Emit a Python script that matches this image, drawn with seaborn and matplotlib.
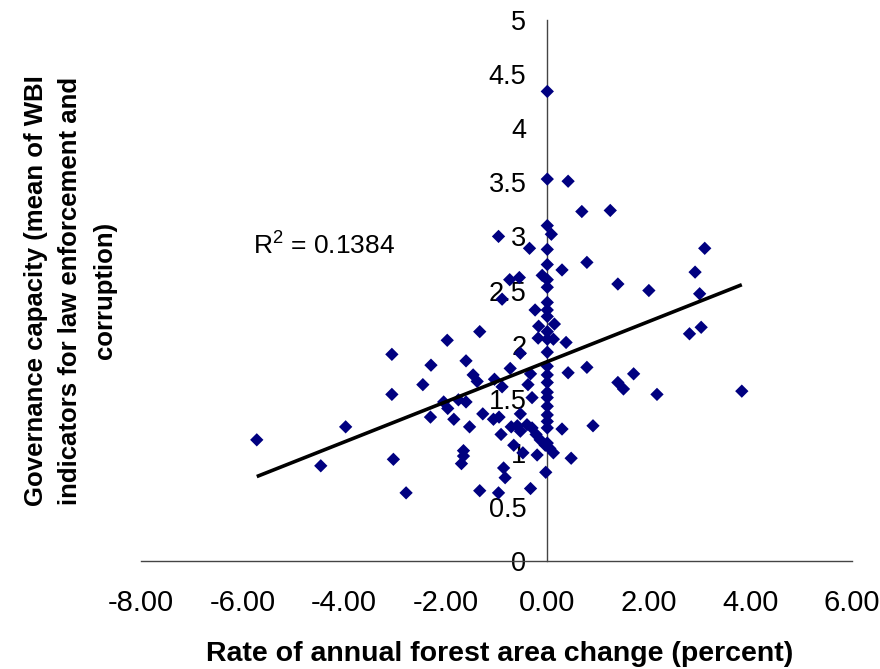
import numpy as np
import pandas as pd
import matplotlib
matplotlib.use("Agg")
import matplotlib.pyplot as plt
import seaborn as sns
from matplotlib.ticker import FuncFormatter

# Rate of annual forest area change (percent) per country
forest_change = [
    -5.72, -4.46, -3.97, -3.06, -3.06, -3.03, -2.78, -2.45, -2.29, -2.30,
    -2.04, -1.96, -1.97,
    -1.84, -1.75, -1.65, -1.65, -1.69, -1.60, -1.60, -1.53, -1.46, -1.38,
    -1.33, -1.33, -1.27, -1.06, -1.04, -0.96, -0.96, -0.95, -0.91, -0.89,
    -0.89, -0.86, -0.83, -0.74, -0.73, -0.71, -0.66, -0.59, -0.55, -0.53,
    -0.53, -0.53, -0.48, -0.40, -0.38, -0.35, -0.33, -0.33, -0.30, -0.30,
    -0.24, -0.22, -0.20, -0.18, -0.17, -0.14, -0.10, -0.04, -0.03,
    0.0, 0.0, 0.0, 0.0, 0.0, 0.0, 0.0, 0.0, 0.0, 0.0, 0.0, 0.0,
    0.0, 0.0, 0.0, 0.0, 0.0, 0.0, 0.0, 0.0, 0.0, 0.0, 0.0,
    0.05, 0.08, 0.12, 0.14, 0.12, 0.29, 0.29, 0.37, 0.41, 0.41, 0.47,
    0.68, 0.78, 0.78, 0.90, 1.24, 1.39, 1.39, 1.50, 1.70, 2.00, 2.16,
    2.80, 2.91, 3.00, 3.03, 3.10, 3.83,
]

# Governance capacity (mean of WBI indicators) for the same countries
governance = [
    1.12, 0.88, 1.24, 1.91, 1.54, 0.94, 0.63, 1.63, 1.81, 1.33,
    1.47, 1.41, 2.04,
    1.31, 1.49, 1.02, 0.97, 0.90, 1.85, 1.47, 1.24, 1.72, 1.66,
    2.12, 0.65, 1.36, 1.31, 1.68, 3.00, 0.63, 1.33, 1.17, 2.42,
    1.61, 0.86, 0.77, 2.60, 1.78, 1.24, 1.07, 1.25, 2.62, 1.92,
    1.36, 1.20, 1.00, 1.26, 1.63, 2.89, 1.73, 0.67, 1.51, 1.23,
    2.32, 1.17, 0.98, 2.06, 2.17, 1.12, 2.64, 1.07, 0.82,
    4.34, 3.53, 3.10, 2.88, 2.74, 2.60, 2.53, 2.39, 2.32, 2.26, 2.12, 2.05,
    1.93, 1.80, 1.72, 1.65, 1.56, 1.51, 1.43, 1.35, 1.29, 1.23, 1.09,
    1.04, 3.02, 1.00, 2.19, 2.05, 2.69, 1.22, 2.02, 3.51, 1.74, 0.95,
    3.23, 2.76, 1.79, 1.25, 3.24, 2.56, 1.65, 1.59, 1.73, 2.50, 1.54,
    2.10, 2.67, 2.47, 2.16, 2.89, 1.57,
]

x_ticks = [-8, -6, -4, -2, 0, 2, 4, 6]
y_ticks = [0, 0.5, 1, 1.5, 2, 2.5, 3, 3.5, 4, 4.5, 5]
r2_label = "R$^{2}$ = 0.1384"

df = pd.DataFrame({"forest_change": forest_change, "governance": governance})

sns.set_theme(style="white")
plt.rcParams["font.family"] = ["Liberation Sans", "DejaVu Sans"]
plt.rcParams["mathtext.default"] = "regular"

fig = plt.figure(figsize=(8.8, 6.69), dpi=100)
fig.patch.set_facecolor("white")
ax = fig.add_axes([0.1602, 0.1614, 0.8080, 0.8087])
ax.set_facecolor("white")

sns.regplot(
    data=df, x="forest_change", y="governance", ax=ax, ci=None, marker="D",
    scatter_kws=dict(s=46, color="#000080", edgecolors="none", alpha=1, zorder=3),
    line_kws=dict(color="black", lw=2.6, solid_capstyle="butt", zorder=4),
)

ax.set_xlim(-8, 6)
ax.set_ylim(0, 5)

# axes cross at the origin
for side in ("top", "right"):
    ax.spines[side].set_visible(False)
ax.spines["left"].set_position(("data", 0))
ax.spines["bottom"].set_position(("data", 0))
for side in ("left", "bottom"):
    ax.spines[side].set_color("#444444")
    ax.spines[side].set_linewidth(1.0)
    ax.spines[side].set_zorder(1)

ax.set_xticks(x_ticks)
ax.set_yticks(y_ticks)
ax.xaxis.set_major_formatter(FuncFormatter(lambda v, p: f"{v:.2f}"))
ax.yaxis.set_major_formatter(FuncFormatter(lambda v, p: f"{v:g}"))
ax.tick_params(axis="x", direction="out", length=6, width=1, color="#444444",
               labelsize=21, pad=14, labelcolor="black")
ax.tick_params(axis="y", direction="out", length=7, width=1, color="#444444",
               labelsize=19.5, pad=8, labelcolor="black")

ax.set_xlabel("Rate of annual forest area change (percent)",
              fontsize=20.5, fontweight="bold", color="black")
ax.xaxis.set_label_coords(0.505, -0.148)

ax.set_ylabel("Governance capacity (mean of WBI\nindicators for law enforcement and\ncorruption)",
              fontsize=18.5, fontweight="bold", color="black",
              multialignment="center", linespacing=1.55)
ax.yaxis.set_label_coords(-0.034, 0.5)

ax.text(-5.79, 2.83, r2_label, fontsize=19, ha="left", va="baseline", color="black")

fig.savefig("out.png", dpi=100, facecolor="white")
